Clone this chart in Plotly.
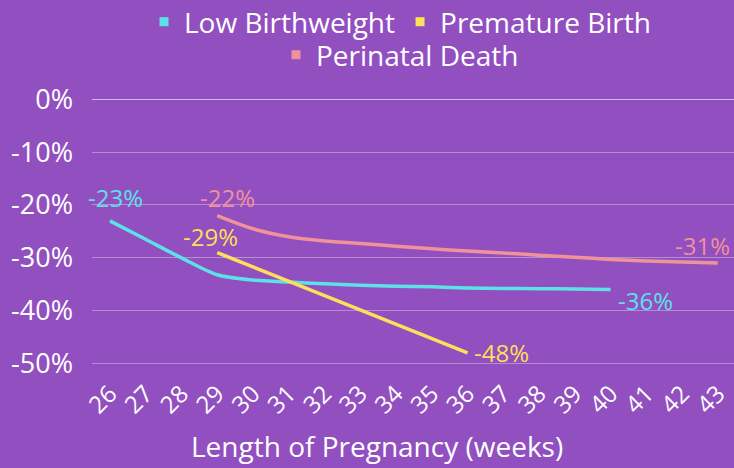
import plotly.graph_objects as go

weeks = list(range(26, 44))
tick_labels = [str(w) for w in weeks]
y_ticks = [0, -0.1, -0.2, -0.3, -0.4, -0.5]
y_tick_labels = [f"{round(v*100)}%" for v in y_ticks]

lbw_weeks = list(range(26, 41))
lbw_vals = [-0.23, -0.265, -0.30, -0.332, -0.342, -0.346, -0.349, -0.352, -0.354, -0.355, -0.357, -0.358, -0.3585, -0.359, -0.36]

pre_weeks = [29, 36]
pre_vals = [-0.29, -0.48]

pd_weeks = list(range(29, 44))
pd_vals = [-0.22, -0.245, -0.26, -0.268, -0.273, -0.278, -0.283, -0.287, -0.291, -0.295, -0.299, -0.303, -0.306, -0.308, -0.31]

C_LBW = "#5CE1E6"
C_PRE = "#FFDE59"
C_PD = "#F0929A"
BG = "#914FC0"
FONT = "Open Sans"

fig = go.Figure()

def add_series(name, xs, ys, color):
    fig.add_trace(go.Scatter(
        x=xs, y=ys, mode="lines", name=name, showlegend=False,
        line=dict(color=color, width=3.5, shape="spline", smoothing=0.8),
        hoverinfo="skip",
    ))

add_series("Low Birthweight", lbw_weeks, lbw_vals, C_LBW)
add_series("Premature Birth", pre_weeks, pre_vals, C_PRE)
add_series("Perinatal Death", pd_weeks, pd_vals, C_PD)

# end-point labels (offsets in pixels, anchor)
label_specs = [
    (lbw_weeks, lbw_vals, C_LBW, (6, 23, "center"), (5, -11, "left")),
    (pre_weeks, pre_vals, C_PRE, (-7, 16, "center"), (4, 0, "left")),
    (pd_weeks, pd_vals, C_PD, (10, 18, "center"), (-15, 18, "center")),
]
annotations = []
for xs, ys, color, first, last in label_specs:
    for idx, (dx, dy, anchor) in ((0, first), (-1, last)):
        annotations.append(dict(
            x=xs[idx], y=ys[idx], xref="x", yref="y",
            text=f"{round(ys[idx]*100)}%", showarrow=False,
            xanchor=anchor, yanchor="middle", xshift=dx, yshift=dy,
            font=dict(color=color, size=24, family=FONT),
        ))

annotations.append(dict(
    text="Length of Pregnancy (weeks)", xref="paper", yref="paper",
    x=(377 - 92) / 642, y=-(449 - 374) / 290, xanchor="center", yanchor="middle",
    showarrow=False, font=dict(size=28, color="white", family=FONT),
))

# legend entries (square markers)
for name, color, lg in [("Low Birthweight", C_LBW, "legend"),
                        ("Premature Birth", C_PRE, "legend"),
                        ("Perinatal Death", C_PD, "legend2")]:
    fig.add_trace(go.Scatter(
        x=[None], y=[None], mode="markers", name=name, legend=lg,
        marker=dict(symbol="square", size=9, color=color),
    ))

legend_common = dict(
    orientation="h", xref="container", x=400 / 734, xanchor="center",
    yref="container", yanchor="middle",
    font=dict(color="white", size=28, family=FONT),
    bgcolor="rgba(0,0,0,0)", itemwidth=30, tracegroupgap=0,
)

fig.update_layout(
    width=734, height=468,
    paper_bgcolor=BG, plot_bgcolor=BG,
    margin=dict(l=92, r=0, t=84, b=94),
    font=dict(family=FONT, color="white"),
    legend=dict(**legend_common, y=1 - 22 / 468),
    legend2=dict(**legend_common, y=1 - 55 / 468),
    xaxis=dict(
        range=[25.5, 43.45], tickvals=weeks, ticktext=tick_labels,
        tickangle=-45, tickfont=dict(size=24, color="white", family=FONT),
        showgrid=False, zeroline=False, showline=False, ticks="",
    ),
    yaxis=dict(
        range=[-0.52, 0.01], tickvals=y_ticks, ticktext=y_tick_labels,
        tickfont=dict(size=27, color="white", family=FONT),
        showgrid=True, gridcolor="rgba(255,255,255,0.35)", gridwidth=1,
        zeroline=True, zerolinecolor="rgba(255,255,255,0.6)", zerolinewidth=1,
        showline=False, ticks="", ticklabelstandoff=18,
    ),
    annotations=annotations,
)

fig.write_html("out.html", config={"displayModeBar": False},
               post_script="document.body.style.margin='0';")
